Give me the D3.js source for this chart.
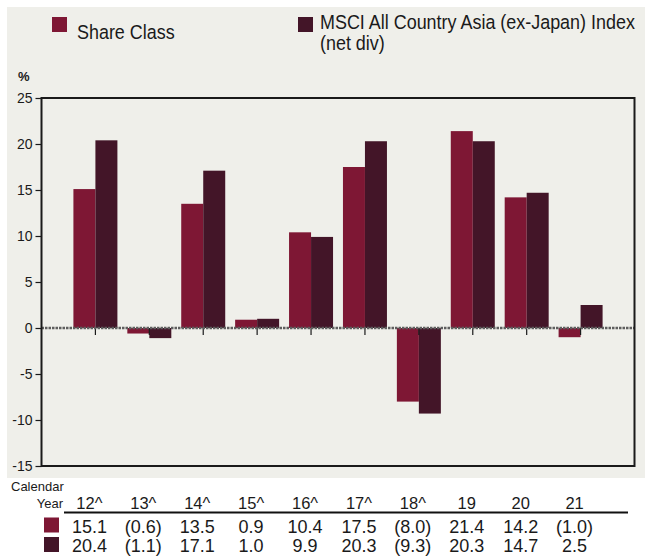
<!DOCTYPE html>
<html>
<head>
<meta charset="utf-8">
<script src="https://cdn.jsdelivr.net/npm/d3@7"></script>
<style>
    body { margin: 0; background: #fff; }
    svg text { fill: #1a1a1a; }
</style>
</head>
<body>
<div id="chart"></div>
<script>
// calendar years and the two series (% return)
var years = ["12^", "13^", "14^", "15^", "16^", "17^", "18^", "19", "20", "21"];
var seriesNames = ["Share Class", "MSCI All Country Asia (ex-Japan) Index (net div)"];
var shareClass = [15.1, -0.6, 13.5, 0.9, 10.4, 17.5, -8.0, 21.4, 14.2, -1.0];
var msciIndex = [20.4, -1.1, 17.1, 1.0, 9.9, 20.3, -9.3, 20.3, 14.7, 2.5];
var yTicks = [25, 20, 15, 10, 5, 0, -5, -10, -15];
var colors = ["#7e1734", "#431528"];

var width = 645, height = 558;
var plot = { left: 41.5, right: 634.5, top: 98, bottom: 466 };
var regular = "'Liberation Sans', Arial, sans-serif";

var svg = d3.select("#chart").append("svg")
    .attr("width", width)
    .attr("height", height);

// grey panel behind the chart
svg.append("rect")
    .attr("x", 7).attr("y", 7)
    .attr("width", width - 7).attr("height", 478 - 7)
    .attr("fill", "#efefea");

var data = years.map(function(y, i) {
    return { year: y, values: [shareClass[i], msciIndex[i]] };
});

var x0 = d3.scaleBand()
    .domain(years)
    .range([plot.left, plot.right])
    .paddingInner(0.184)
    .paddingOuter(0.592);

var x1 = d3.scaleBand()
    .domain([0, 1])
    .range([0, x0.bandwidth()]);

var y = d3.scaleLinear()
    .domain([-15, 25])
    .range([plot.bottom, plot.top]);

// y axis (plain hyphen for negatives)
var yAxis = svg.append("g")
    .attr("transform", "translate(" + plot.left + ",0)")
    .call(d3.axisLeft(y).tickValues(yTicks).tickSize(6).tickPadding(3)
        .tickFormat(function(d) { return String(d); }));
yAxis.select(".domain").remove();
yAxis.selectAll("line").attr("stroke", "#1a1a1a").attr("stroke-width", 1.2);
yAxis.selectAll("text")
    .style("font-family", regular)
    .style("font-size", "14px")
    .attr("fill", "#1a1a1a");

svg.append("text")
    .attr("x", 18).attr("y", 81)
    .style("font-family", regular)
    .style("font-size", "13px")
    .style("font-weight", "bold")
    .text("%");

// bars
var groups = svg.selectAll("g.year")
    .data(data)
    .enter().append("g")
    .attr("class", "year")
    .attr("transform", function(d) { return "translate(" + x0(d.year) + ",0)"; });

groups.selectAll("rect")
    .data(function(d) { return d.values; })
    .enter().append("rect")
    .attr("x", function(d, i) { return x1(i); })
    .attr("y", function(d) { return y(Math.max(0, d)); })
    .attr("width", x1.bandwidth())
    .attr("height", function(d) { return Math.abs(y(d) - y(0)); })
    .attr("fill", function(d, i) { return colors[i]; });

// zero line, dashed, with small ticks under each group
svg.append("line")
    .attr("x1", plot.left).attr("x2", plot.right)
    .attr("y1", y(0)).attr("y2", y(0))
    .attr("stroke", "#5e5e5e")
    .attr("stroke-width", 2.5)
    .attr("stroke-dasharray", "2.5,1");

groups.append("line")
    .attr("x1", x0.bandwidth() / 2).attr("x2", x0.bandwidth() / 2)
    .attr("y1", y(0)).attr("y2", y(0) + 7)
    .attr("stroke", "#1a1a1a")
    .attr("stroke-width", 1.2);

// plot frame
svg.append("rect")
    .attr("x", plot.left).attr("y", plot.top)
    .attr("width", plot.right - plot.left)
    .attr("height", plot.bottom - plot.top)
    .attr("fill", "none")
    .attr("stroke", "#1a1a1a")
    .attr("stroke-width", 2);

// legend (condensed look via horizontal scale)
var legendX = [52, 298];
svg.selectAll("rect.legend")
    .data(seriesNames)
    .enter().append("rect")
    .attr("class", "legend")
    .attr("x", function(d, i) { return legendX[i]; })
    .attr("y", 17)
    .attr("width", 15).attr("height", 15)
    .attr("fill", function(d, i) { return colors[i]; });

function condensed(x, yPos) {
    return svg.append("text")
        .attr("transform", "translate(" + x + "," + yPos + ") scale(0.875,1)")
        .style("font-family", regular)
        .style("font-size", "20.5px");
}
condensed(77, 39).text(seriesNames[0]);

var lg2 = condensed(320, 28.5);
lg2.append("tspan").attr("x", 0).text("MSCI All Country Asia (ex-Japan) Index");
lg2.append("tspan").attr("x", 0).attr("dy", 22).text("(net div)");

// table below the chart
function fmt(v) {
    return v < 0 ? "(" + Math.abs(v).toFixed(1) + ")" : v.toFixed(1);
}
var colX = function(yr) { return x0(yr) + x0.bandwidth() / 2 - 6; };

svg.append("text")
    .attr("x", 11).attr("y", 491)
    .style("font-family", regular)
    .style("font-size", "13px")
    .text("Calendar");
svg.append("text")
    .attr("x", 63).attr("y", 508)
    .attr("text-anchor", "end")
    .style("font-family", regular)
    .style("font-size", "13px")
    .text("Year");

svg.selectAll("text.yr")
    .data(years)
    .enter().append("text")
    .attr("class", "yr")
    .attr("x", colX)
    .attr("y", 508.5)
    .attr("text-anchor", "middle")
    .style("font-family", regular)
    .style("font-size", "16.5px")
    .text(function(d) { return d; });

svg.append("line")
    .attr("x1", 64).attr("x2", 628)
    .attr("y1", 512.5).attr("y2", 512.5)
    .attr("stroke", "#111")
    .attr("stroke-width", 2);

var rowY = [532.5, 552];
[shareClass, msciIndex].forEach(function(vals, r) {
    svg.append("rect")
        .attr("x", 44).attr("y", rowY[r] - 15)
        .attr("width", 15).attr("height", 15)
        .attr("fill", colors[r]);
    svg.selectAll("text.row" + r)
        .data(vals)
        .enter().append("text")
        .attr("class", "row" + r)
        .attr("x", function(d, i) { return colX(years[i]); })
        .attr("y", rowY[r])
        .attr("text-anchor", "middle")
        .style("font-family", regular)
        .style("font-size", "18px")
        .text(fmt);
});
</script>
</body>
</html>
